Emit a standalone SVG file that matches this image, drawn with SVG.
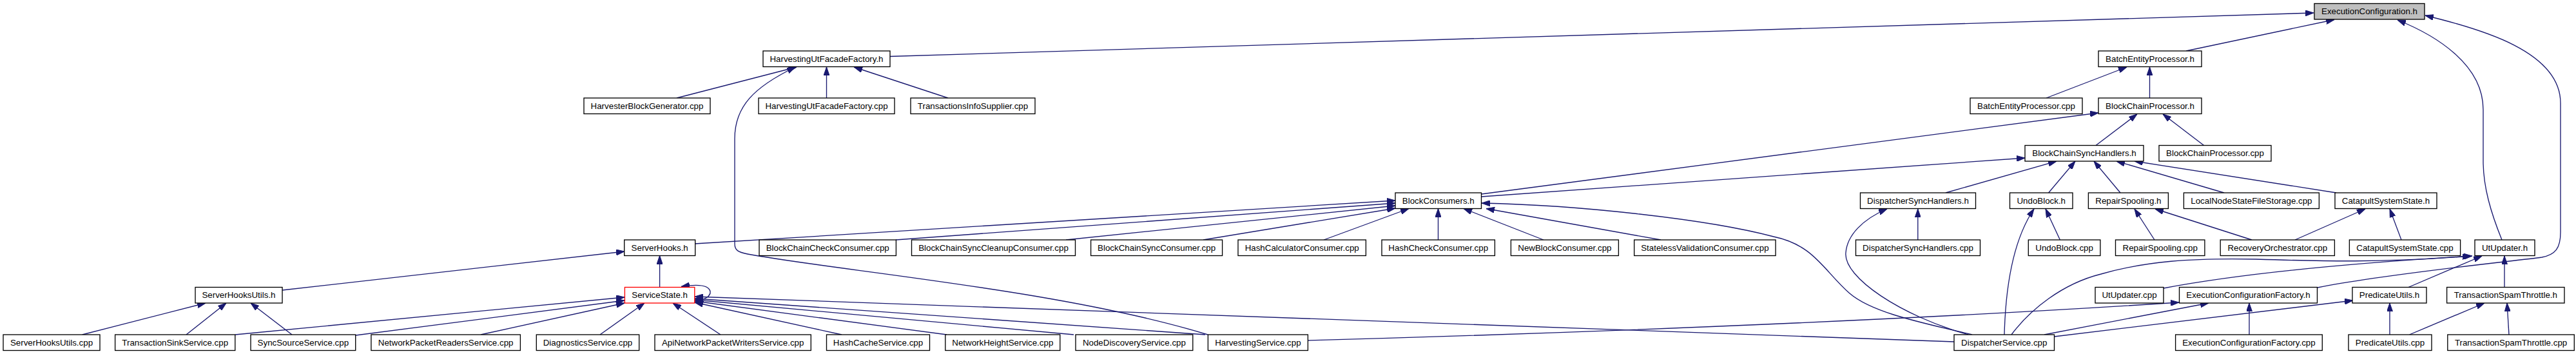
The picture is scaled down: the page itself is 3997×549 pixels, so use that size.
<svg xmlns="http://www.w3.org/2000/svg" width="3997" height="549" viewBox="0 0 3997 549">
<style>
.n rect{fill:#fff;stroke:#000;stroke-width:1.33}
.n text{font-family:"Liberation Sans",Arial,Helvetica,sans-serif;font-size:13.33px;text-anchor:middle;fill:#000}
#edges path{fill:none;stroke:#191970;stroke-width:1.33;marker-end:url(#ah)}
</style>
<defs>
<marker id="ah" markerUnits="userSpaceOnUse" viewBox="0 0 13 9" refX="13" refY="4.5" markerWidth="13" markerHeight="9" orient="auto">
<path d="M0,0 L13,4.5 L0,9 z" fill="#191970" stroke="#191970" stroke-width="1"/>
</marker>
</defs>
<rect width="3997" height="549" fill="#fff"/>
<g id="edges">
<path d="M1381,87.5 L3590,20"/>
<path d="M3392,79 L3622,30.5"/>
<path d="M3882,372 C3865,330 3853,290 3853,250 L3853,170 C3853,100 3780,55 3720,31"/>
<path d="M3596,446 C3700,425 3900,405 3944,399 C3965,395 3973,385 3973,360 L3973,160 C3973,80 3850,45 3763,24"/>
<path d="M1050,152 L1236,104"/>
<path d="M1282.5,152 L1282.5,104"/>
<path d="M1471,152 L1325,104"/>
<path d="M1874,519 C1650,450 1300,420 1160,394 C1145,391 1140,388 1140,378 L1140,215 C1140,165 1170,135 1234,104"/>
<path d="M3175,152 L3300,104"/>
<path d="M3335.5,152 L3335.5,104"/>
<path d="M3252,225.5 L3316,177"/>
<path d="M3419.6,225.5 L3356,177"/>
<path d="M2298.5,301 L3256,175"/>
<path d="M2298.5,305 L3142,245"/>
<path d="M3019,299 L3191,250"/>
<path d="M3178.6,299 L3220,250"/>
<path d="M3290,299 L3249,250"/>
<path d="M3451,299 L3284,250"/>
<path d="M3625,299 L3312,250"/>
<path d="M3196.4,372 L3174,324"/>
<path d="M3110,519 C3112,440 3125,370 3156,324"/>
<path d="M3343,372 L3312,324"/>
<path d="M3494,372 L3344,324"/>
<path d="M3561,372 L3670,324"/>
<path d="M3726,372 L3708,324"/>
<path d="M2975.8,372 L2975.8,324"/>
<path d="M3054,519 C2950,490 2860,430 2864,392 C2866,365 2890,340 2928,324"/>
<path d="M3060,519 C2980,500 2905,485 2870,455 C2830,420 2815,380 2752,367 C2650,340 2450,318 2299,315"/>
<path d="M3172,519 L3427,470"/>
<path d="M3490,519 L3490,470"/>
<path d="M3187.5,522 L3651,466"/>
<path d="M3708,519 L3708,470"/>
<path d="M3893,519 L3890,470"/>
<path d="M3738.5,519 L3855,470"/>
<path d="M2029,528 C2500,515 3000,494 3381,469"/>
<path d="M3032,530 L1078,460"/>
<path d="M1078,378 L2165,311"/>
<path d="M1390,372 L2165,315"/>
<path d="M1654,372 L2165,319"/>
<path d="M1867,372 L2165,323"/>
<path d="M2054,372 L2186,323.5"/>
<path d="M2231.5,372 L2231.5,323.5"/>
<path d="M2395,372 L2271,323.5"/>
<path d="M2577,372 L2306,323.5"/>
<path d="M1023.6,445.5 L1023.6,396.5"/>
<path d="M438,450 L969,390"/>
<path d="M127.6,519 L319,470"/>
<path d="M289,519 L351,470"/>
<path d="M453,519 L389,470"/>
<path d="M365,519 L969,461"/>
<path d="M552,520 L969,466"/>
<path d="M746,519 L969,470"/>
<path d="M931,519 L1000,470"/>
<path d="M1118,519 L1044,470"/>
<path d="M1306,519 L1078,469"/>
<path d="M1469,519 L1078,467"/>
<path d="M1666,519 L1078,465"/>
<path d="M1870,519 L1078,463"/>
<path d="M1078,466 C1095,466 1103,458 1102,452 C1100,443 1085,440 1057,444.5"/>
<path d="M3357,447 C3500,420 3700,405 3836,397"/>
<path d="M3121,519 C3150,480 3200,440 3260,425 C3330,405 3400,400 3500,402 C3600,405 3700,408 3834,397"/>
<path d="M3737,445.5 L3851,397"/>
<path d="M3886,445.5 L3886,397"/>
</g>
<g id="ec" class="n"><rect x="3591" y="5.5" width="171" height="24.5" style="fill:#bfbfbf"/><text x="3676.5" y="22">ExecutionConfiguration.h</text></g>
<g id="huff" class="n"><rect x="1184" y="79" width="197" height="24.5"/><text x="1282.5" y="95.5">HarvestingUtFacadeFactory.h</text></g>
<g id="bep_h" class="n"><rect x="3256" y="79" width="160" height="24.5"/><text x="3336" y="95.5">BatchEntityProcessor.h</text></g>
<g id="hbg" class="n"><rect x="906" y="152" width="196" height="24.5"/><text x="1004" y="168.5">HarvesterBlockGenerator.cpp</text></g>
<g id="huff_cpp" class="n"><rect x="1177" y="152" width="211" height="24.5"/><text x="1282.5" y="168.5">HarvestingUtFacadeFactory.cpp</text></g>
<g id="tis" class="n"><rect x="1413" y="152" width="193" height="24.5"/><text x="1509.5" y="168.5">TransactionsInfoSupplier.cpp</text></g>
<g id="bep_cpp" class="n"><rect x="3057" y="152" width="174" height="24.5"/><text x="3144" y="168.5">BatchEntityProcessor.cpp</text></g>
<g id="bcp_h" class="n"><rect x="3256" y="152" width="160" height="24.5"/><text x="3336" y="168.5">BlockChainProcessor.h</text></g>
<g id="bcsh" class="n"><rect x="3142" y="225.5" width="184" height="24.5"/><text x="3234" y="242">BlockChainSyncHandlers.h</text></g>
<g id="bcp_cpp" class="n"><rect x="3350" y="225.5" width="174" height="24.5"/><text x="3437" y="242">BlockChainProcessor.cpp</text></g>
<g id="bc_h" class="n"><rect x="2165" y="299" width="133.5" height="24.5"/><text x="2231.75" y="315.5">BlockConsumers.h</text></g>
<g id="dsh_h" class="n"><rect x="2886.5" y="299" width="179" height="24.5"/><text x="2976" y="315.5">DispatcherSyncHandlers.h</text></g>
<g id="undo_h" class="n"><rect x="3118.5" y="299" width="97.5" height="24.5"/><text x="3167.25" y="315.5">UndoBlock.h</text></g>
<g id="rs_h" class="n"><rect x="3240.4" y="299" width="124" height="24.5"/><text x="3302.4" y="315.5">RepairSpooling.h</text></g>
<g id="lnsfs" class="n"><rect x="3388.4" y="299" width="210" height="24.5"/><text x="3493.4" y="315.5">LocalNodeStateFileStorage.cpp</text></g>
<g id="css_h" class="n"><rect x="3623" y="299" width="158" height="24.5"/><text x="3702" y="315.5">CatapultSystemState.h</text></g>
<g id="sh" class="n"><rect x="968.7" y="372" width="110" height="24.5"/><text x="1023.7" y="388.5">ServerHooks.h</text></g>
<g id="bccc" class="n"><rect x="1178" y="372" width="212.4" height="24.5"/><text x="1284.2" y="388.5">BlockChainCheckConsumer.cpp</text></g>
<g id="bcscc" class="n"><rect x="1414.5" y="372" width="254" height="24.5"/><text x="1541.5" y="388.5">BlockChainSyncCleanupConsumer.cpp</text></g>
<g id="bcsc" class="n"><rect x="1692.6" y="372" width="204" height="24.5"/><text x="1794.6" y="388.5">BlockChainSyncConsumer.cpp</text></g>
<g id="hcc" class="n"><rect x="1921" y="372" width="198.4" height="24.5"/><text x="2020.2" y="388.5">HashCalculatorConsumer.cpp</text></g>
<g id="hchk" class="n"><rect x="2144" y="372" width="175.4" height="24.5"/><text x="2231.7" y="388.5">HashCheckConsumer.cpp</text></g>
<g id="nbc" class="n"><rect x="2344.4" y="372" width="167" height="24.5"/><text x="2427.9" y="388.5">NewBlockConsumer.cpp</text></g>
<g id="svc" class="n"><rect x="2535.7" y="372" width="219.4" height="24.5"/><text x="2645.4" y="388.5">StatelessValidationConsumer.cpp</text></g>
<g id="dsh_cpp" class="n"><rect x="2879.5" y="372" width="193" height="24.5"/><text x="2976" y="388.5">DispatcherSyncHandlers.cpp</text></g>
<g id="undo_cpp" class="n"><rect x="3147.3" y="372" width="111.6" height="24.5"/><text x="3203.1" y="388.5">UndoBlock.cpp</text></g>
<g id="rs_cpp" class="n"><rect x="3282.5" y="372" width="138.4" height="24.5"/><text x="3351.7" y="388.5">RepairSpooling.cpp</text></g>
<g id="ro_cpp" class="n"><rect x="3445.2" y="372" width="177.2" height="24.5"/><text x="3533.8" y="388.5">RecoveryOrchestrator.cpp</text></g>
<g id="css_cpp" class="n"><rect x="3645.4" y="372" width="172.2" height="24.5"/><text x="3731.5" y="388.5">CatapultSystemState.cpp</text></g>
<g id="utu_h" class="n"><rect x="3840" y="372" width="93" height="24.5"/><text x="3886.5" y="388.5">UtUpdater.h</text></g>
<g id="shu_h" class="n"><rect x="303" y="445.5" width="135" height="24.5"/><text x="370.5" y="462">ServerHooksUtils.h</text></g>
<g id="ss_h" class="n"><rect x="969.4" y="445.5" width="108.4" height="24.5" style="stroke:#ff0000"/><text x="1023.6" y="462">ServiceState.h</text></g>
<g id="utu_cpp" class="n"><rect x="3251" y="445.5" width="106" height="24.5"/><text x="3304" y="462">UtUpdater.cpp</text></g>
<g id="efc_h" class="n"><rect x="3381.5" y="445.5" width="214" height="24.5"/><text x="3488.5" y="462">ExecutionConfigurationFactory.h</text></g>
<g id="pu_h" class="n"><rect x="3650" y="445.5" width="115" height="24.5"/><text x="3707.5" y="462">PredicateUtils.h</text></g>
<g id="tst_h" class="n"><rect x="3796.6" y="445.5" width="182.4" height="24.5"/><text x="3887.8" y="462">TransactionSpamThrottle.h</text></g>
<g id="shu_cpp" class="n"><rect x="5" y="519" width="150" height="24.5"/><text x="80" y="535.5">ServerHooksUtils.cpp</text></g>
<g id="tss" class="n"><rect x="178.6" y="519" width="186.2" height="24.5"/><text x="271.7" y="535.5">TransactionSinkService.cpp</text></g>
<g id="sss" class="n"><rect x="389" y="519" width="162.7" height="24.5"/><text x="470.35" y="535.5">SyncSourceService.cpp</text></g>
<g id="nprs" class="n"><rect x="575.9" y="519" width="231.5" height="24.5"/><text x="691.65" y="535.5">NetworkPacketReadersService.cpp</text></g>
<g id="diag" class="n"><rect x="832.3" y="519" width="159.4" height="24.5"/><text x="912" y="535.5">DiagnosticsService.cpp</text></g>
<g id="anpws" class="n"><rect x="1016" y="519" width="242.3" height="24.5"/><text x="1137.15" y="535.5">ApiNetworkPacketWritersService.cpp</text></g>
<g id="hcs" class="n"><rect x="1282.5" y="519" width="160" height="24.5"/><text x="1362.5" y="535.5">HashCacheService.cpp</text></g>
<g id="nhs" class="n"><rect x="1466.8" y="519" width="178" height="24.5"/><text x="1555.8" y="535.5">NetworkHeightService.cpp</text></g>
<g id="nds" class="n"><rect x="1669" y="519" width="181.8" height="24.5"/><text x="1759.9" y="535.5">NodeDiscoveryService.cpp</text></g>
<g id="hs" class="n"><rect x="1874.4" y="519" width="155" height="24.5"/><text x="1951.9" y="535.5">HarvestingService.cpp</text></g>
<g id="ds" class="n"><rect x="3032" y="519" width="155.5" height="24.5"/><text x="3109.75" y="535.5">DispatcherService.cpp</text></g>
<g id="efc_cpp" class="n"><rect x="3375.6" y="519" width="227.7" height="24.5"/><text x="3489.45" y="535.5">ExecutionConfigurationFactory.cpp</text></g>
<g id="pu_cpp" class="n"><rect x="3644" y="519" width="129" height="24.5"/><text x="3708.5" y="535.5">PredicateUtils.cpp</text></g>
<g id="tst_cpp" class="n"><rect x="3797.8" y="519" width="196.5" height="24.5"/><text x="3896.05" y="535.5">TransactionSpamThrottle.cpp</text></g>
</svg>
